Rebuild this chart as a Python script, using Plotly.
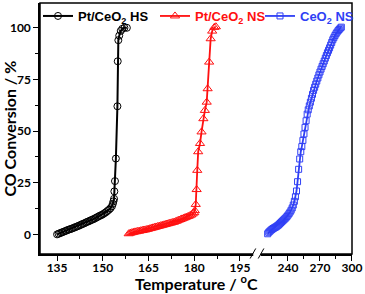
import plotly.graph_objects as go

# ---- data ----
hs_temp = [135.0,135.5,136.0,136.5,137.0,137.5,138.0,138.5,139.0,139.5,140.0,140.5,141.0,141.5,142.0,142.5,
           143.0,143.5,144.0,144.5,145.0,145.5,146.0,146.5,147.0,147.5,148.0,148.5,149.0,149.5,150.0,150.5,
           151.0,151.5,152.0,152.5,153.0,153.3,153.5,153.7,153.8,154.0,154.3,154.8,154.9,155.1,155.4,155.9,
           156.4,157.1,157.9]
hs_conv = [0.0,0.3,0.6,0.9,1.2,1.5,1.8,2.1,2.4,2.6,2.9,3.2,3.5,3.8,4.1,4.4,
           4.8,5.1,5.4,5.8,6.1,6.4,6.8,7.1,7.4,7.8,8.2,8.6,9.0,9.3,9.7,10.2,
           10.7,11.3,11.9,12.6,13.6,14.8,16.0,17.2,20.8,25.8,36.7,62.0,83.8,94.0,96.2,98.5,
           99.5,100.0,100.0]

ns_temp = [158.5,159.0,159.5,160.0,160.5,161.0,161.5,162.0,162.5,163.0,163.5,164.0,164.5,165.0,165.5,
           166.0,166.5,167.0,167.5,168.0,168.5,169.0,169.5,170.0,170.5,171.0,171.5,172.0,172.5,173.0,
           173.5,174.0,174.5,175.0,175.5,176.0,176.5,177.0,177.5,178.0,178.5,179.0,179.5,180.0,
           180.2,180.5,180.8,181.0,181.3,181.9,182.4,183.0,183.5,184.1,184.4,184.9,185.4,185.9,186.6,187.1]
ns_conv = [0.3,0.6,0.8,1.0,1.2,1.3,1.5,1.6,1.8,1.9,2.1,2.2,2.4,2.6,2.8,
           3.0,3.2,3.4,3.6,3.8,4.0,4.2,4.4,4.6,4.8,5.0,5.2,5.4,5.6,5.8,
           6.0,6.3,6.6,6.9,7.2,7.5,7.8,8.1,8.4,8.7,9.0,9.4,9.9,10.5,
           11.5,14.5,21.7,31.0,40.0,44.0,49.6,56.0,60.0,64.0,70.5,83.4,94.7,98.4,100.2,100.5]

ceo2_temp = [221,222,223,224,225,226,227,228,229,230,231,232,233,234,235,236,237,238,239,240,
             241,242,243,244,245,246,247,248,249,250,251,252,253,254,255,256,257,258,259,260,
             261,262,263,264,265,266,267,268,269,270,271,272,273,274,275,276,277,278,279,280,
             281,282,283,284,285,286,287,288,289,290]
ceo2_conv = [0.3,1.0,1.5,2.0,2.4,2.8,3.1,3.4,3.7,4.1,4.5,5.0,5.5,6.0,6.5,7.0,7.5,8.0,8.6,9.3,
             10.0,10.8,11.7,12.8,14.2,16.0,18.2,21.0,25.5,31.5,36.5,40.0,42.5,45.5,48.6,51.8,55.0,58.2,60.3,62.2,
             64.0,65.9,67.8,69.7,71.2,72.7,74.2,75.7,77.2,78.6,80.0,81.3,82.6,83.9,85.3,86.6,87.9,89.1,90.3,91.6,
             92.9,94.2,95.2,96.2,97.1,97.9,98.6,99.2,99.8,100.3]

left_ticks = [135, 150, 165, 180, 195]
right_ticks = [240, 270, 300]
y_ticks = [0, 25, 50, 75, 100]

BLACK = "#000000"
RED = "#ff1010"
BLUE = "#2f3ff5"

def lbl(txt, col):
    return f"<b><span style='color:{col}'>{txt}</span></b>"

fig = go.Figure()
fig.add_trace(go.Scatter(
    x=hs_temp, y=hs_conv, mode="lines+markers", xaxis="x", yaxis="y", legend="legend",
    name=lbl("Pt/CeO<sub>2</sub> HS", BLACK),
    line=dict(color=BLACK, width=2),
    marker=dict(symbol="circle-open", size=7, color=BLACK, line=dict(width=1))))
fig.add_trace(go.Scatter(
    x=ns_temp, y=ns_conv, mode="lines+markers", xaxis="x", yaxis="y", legend="legend2",
    name=lbl("Pt/CeO<sub>2</sub> NS", RED),
    line=dict(color=RED, width=1.8),
    marker=dict(symbol="triangle-up-open", size=8, color=RED, line=dict(width=1))))
fig.add_trace(go.Scatter(
    x=ceo2_temp, y=ceo2_conv, mode="lines+markers", xaxis="x2", yaxis="y", legend="legend3",
    name=lbl("CeO<sub>2</sub> NS", BLUE),
    line=dict(color=BLUE, width=1.8),
    marker=dict(symbol="square-open", size=6, color=BLUE, line=dict(width=1))))

BR = 0.6955
tickfont = dict(family="Lato", size=12, color="black", weight="bold")
W, H = 365, 294

def leg(px_left):
    return dict(xref="container", yref="container", x=px_left / W, y=1 - 1 / H,
                xanchor="left", yanchor="top", orientation="v",
                font=dict(family="Liberation Sans", size=13, color="black"),
                bgcolor="rgba(0,0,0,0)", borderwidth=0, itemwidth=30)

fig.update_layout(
    width=W, height=H,
    margin=dict(l=40, r=13, t=3, b=40, autoexpand=False),
    paper_bgcolor="white", plot_bgcolor="white",
    showlegend=True,
    legend=leg(38), legend2=leg(155), legend3=leg(260),
    xaxis=dict(domain=[0, BR], range=[129.4, 200.6], tickvals=left_ticks,
               ticks="outside", ticklen=5, tickwidth=1, tickcolor="black",
               minor=dict(tick0=135, dtick=7.5, ticks="outside", ticklen=3, tickcolor="black"),
               showgrid=False, zeroline=False, showline=True, linecolor="black", linewidth=1.5,
               tickfont=tickfont, anchor="y", automargin=False, ticklabelstandoff=-3),
    xaxis2=dict(domain=[BR, 1], range=[211, 300], tickvals=right_ticks,
                ticks="outside", ticklen=5, tickwidth=1, tickcolor="black",
                minor=dict(tickvals=[225, 255, 285], ticks="outside", ticklen=3, tickcolor="black"),
                showgrid=False, zeroline=False, showline=True, linecolor="black", linewidth=1.5,
                tickfont=tickfont, anchor="y", automargin=False, ticklabelstandoff=-3),
    yaxis=dict(range=[-9.5, 112], tickvals=y_ticks,
               ticks="outside", ticklen=5, tickwidth=1, tickcolor="black",
               minor=dict(dtick=12.5, tick0=0, ticks="outside", ticklen=3, tickcolor="black"),
               showgrid=False, zeroline=False, showline=True, linecolor="black", linewidth=1.5,
               tickfont=tickfont, anchor="x", automargin=False),
    shapes=[
        dict(type="rect", xref="paper", yref="paper", x0=0, x1=1, y0=0, y1=1,
             line=dict(color="black", width=1.5), fillcolor="rgba(0,0,0,0)", layer="above"),
        dict(type="rect", xref="paper", yref="paper", x0=BR - 0.012, x1=BR + 0.012, y0=-0.01, y1=0.01,
             line=dict(width=0), fillcolor="white", layer="above"),
        dict(type="line", xref="paper", yref="paper", x0=BR - 0.022, x1=BR - 0.004, y0=-0.018, y1=0.022,
             line=dict(color="black", width=1), layer="above"),
        dict(type="line", xref="paper", yref="paper", x0=BR + 0.004, x1=BR + 0.022, y0=-0.018, y1=0.022,
             line=dict(color="black", width=1), layer="above"),
    ],
    annotations=[
        dict(text="Temperature / <sup>o</sup>C", xref="paper", yref="paper", x=0.5, y=-0.064,
             xanchor="center", yanchor="top", showarrow=False,
             font=dict(family="Lato", size=16, color="black", weight="bold")),
        dict(text="CO Conversion / %", xref="paper", yref="paper", x=-0.099, y=0.5,
             xanchor="center", yanchor="middle", showarrow=False, textangle=-90,
             font=dict(family="Lato", size=16, color="black", weight="bold")),
    ],
)

fig.write_html("out.html", config={"displayModeBar": False},
               post_script="document.body.style.margin='0px';")
